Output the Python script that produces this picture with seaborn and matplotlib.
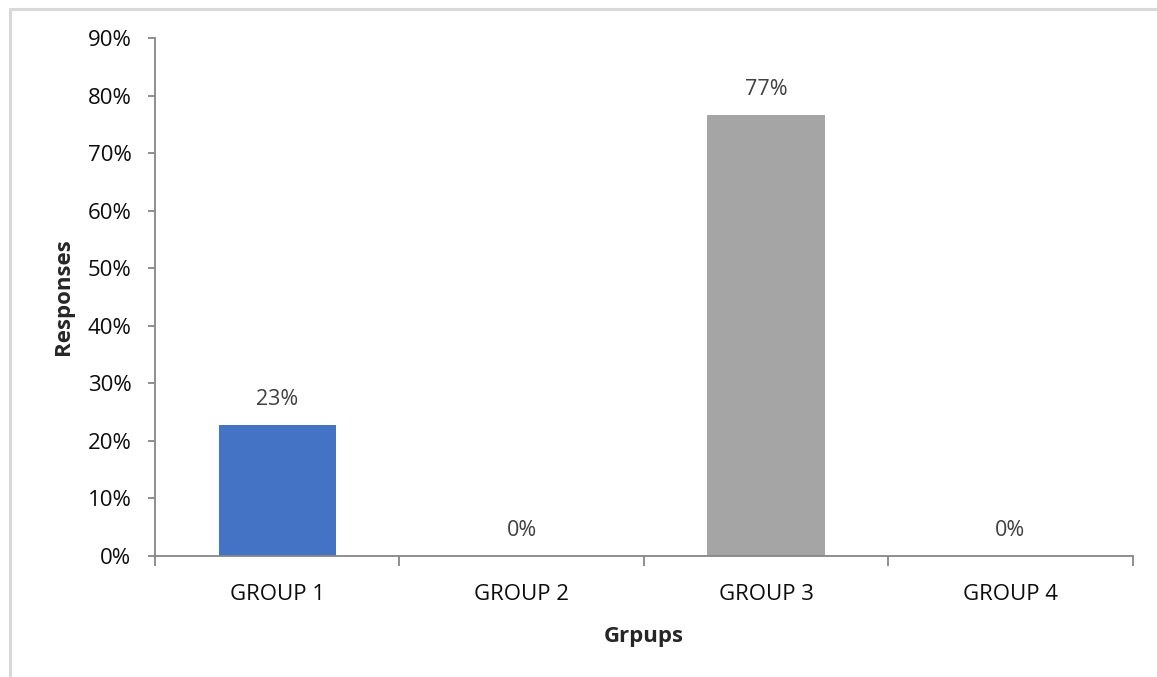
import matplotlib
matplotlib.use("Agg")
import matplotlib.pyplot as plt
import matplotlib.lines as mlines
import seaborn as sns
import pandas as pd
from matplotlib.ticker import FuncFormatter, FixedLocator

groups = ["GROUP 1", "GROUP 2", "GROUP 3", "GROUP 4"]
shares = [0.227, 0.0, 0.767, 0.0]
bar_colors = ["#4472C4", "#ED7D31", "#A5A5A5", "#FFC000"]
y_ticks = [0.0, 0.1, 0.2, 0.3, 0.4, 0.5, 0.6, 0.7, 0.8, 0.9]

sns.set_theme(style="white")
plt.rcParams["font.family"] = ["Open Sans", "DejaVu Sans"]

df = pd.DataFrame({"group": groups, "share": shares})

fig = plt.figure(figsize=(11.57, 6.77), dpi=100)
ax = fig.add_axes([0.134, 0.1787, 0.845, 0.7652])

sns.barplot(data=df, x="group", y="share", hue="group",
            palette=dict(zip(groups, bar_colors)), width=0.48,
            legend=False, ax=ax, saturation=1, linewidth=0)

ax.set_xlim(-0.5, len(groups) - 0.5)
ax.set_ylim(0, 0.9)
ax.set_yticks(y_ticks)
ax.yaxis.set_major_formatter(FuncFormatter(lambda v, _: f"{v*100:.0f}%"))

axis_gray = "#868686"
for side in ["top", "right"]:
    ax.spines[side].set_visible(False)
for side in ["left", "bottom"]:
    ax.spines[side].set_color(axis_gray)
    ax.spines[side].set_linewidth(1.3)

ax.tick_params(axis="y", which="major", length=5, width=1.3, color=axis_gray,
               labelsize=16, labelcolor="#0d0d0d", pad=12, left=True)
ax.tick_params(axis="x", which="major", length=0, labelsize=16,
               labelcolor="#0d0d0d", pad=20, bottom=True)
ax.xaxis.set_minor_locator(FixedLocator([i - 0.5 for i in range(len(groups) + 1)]))
ax.tick_params(axis="x", which="minor", length=7, width=1.3, color=axis_gray,
               bottom=True)

for i, v in enumerate(shares):
    ax.annotate(f"{v*100:.0f}%", (i, v), xytext=(0, 15),
                textcoords="offset pixels", ha="center", va="bottom",
                fontsize=15.5, color="#404040")

ax.set_xlabel("Grpups", fontsize=16, fontweight="bold", labelpad=15)
ax.set_ylabel("Responses", fontsize=16, fontweight="bold", labelpad=10)

# chart-area frame along the top and left edges
frame_kw = dict(color="#D9D9D9", linewidth=2.2, transform=fig.transFigure)
fig.add_artist(mlines.Line2D([0.0085, 1.0], [0.987, 0.987], **frame_kw))
fig.add_artist(mlines.Line2D([0.0085, 0.0085], [0.0, 0.987], **frame_kw))

fig.savefig("out.png", dpi=100)
